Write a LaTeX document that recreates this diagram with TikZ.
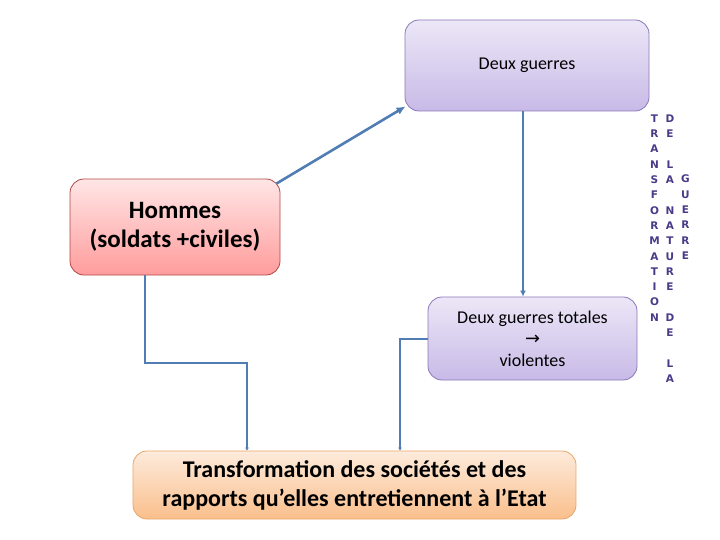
\documentclass[tikz,border=0pt]{standalone}
\usepackage{fontspec}
\usepackage{graphicx}
\setmainfont{Carlito}
\newfontfamily\lettres{DejaVu Sans}
\usetikzlibrary{arrows.meta, positioning}
\definecolor{conncol}{HTML}{4F7DB4}
\definecolor{lettercol}{HTML}{4B3A88}
\definecolor{violethaut}{HTML}{ECE7F7}
\definecolor{violetbas}{HTML}{C8BAE7}
\definecolor{violetbord}{HTML}{8A78B8}
\definecolor{rosehaut}{HTML}{FFE6E6}
\definecolor{rosebas}{HTML}{FF9C9C}
\definecolor{rosebord}{HTML}{B04848}
\definecolor{pechehaut}{HTML}{FDEBDC}
\definecolor{pechebas}{HTML}{FABF8C}
\definecolor{pechebord}{HTML}{EBA567}

\begin{document}
\begin{tikzpicture}[
  x=1pt, y=-1pt, >=Latex,
  box/.style={rectangle, rounded corners=14pt, draw, align=center, inner sep=2pt, line width=0.8pt},
  violet/.style={box, draw=violetbord, top color=violethaut, bottom color=violetbas, font=\fontsize{18}{21.5}\selectfont},
  rose/.style={box, draw=rosebord, top color=rosehaut, bottom color=rosebas, font=\bfseries\fontsize{25}{29}\selectfont},
  peach/.style={box, draw=pechebord, top color=pechehaut, bottom color=pechebas, font=\bfseries\fontsize{24}{29}\selectfont},
  conn/.style={draw=conncol, line width=2pt},
  col/.style={anchor=north, align=center, inner sep=0pt, text=lettercol, font=\lettres\bfseries\fontsize{10.5}{15.3}\selectfont}
]
  \useasboundingbox (0,0) rectangle (720,540);
  \node[violet, minimum width=244, minimum height=91] (guerres) at (527,65.5) {Deux guerres};
  \node[rose, minimum width=210, minimum height=96] (hommes) at (175,227) {Hommes\\ (soldats +civiles)};
  \node[violet, minimum width=209, minimum height=83] (totales) at (532.5,338.5) {Deux guerres totales\\ \resizebox{15pt}{!}{\lettres →}\\ violentes};
  \node[peach, minimum width=443, minimum height=68] (transf) at (354.5,485) {Transformation des sociétés et des\\ rapports qu’elles entretiennent à l’Etat};
  % colonnes verticales
  \node[col] (mot1) at (654.5,114.5) {T\\R\\A\\N\\S\\F\\O\\R\\M\\A\\T\\I\\O\\N};
  \node[col] (mot2) at (670,114.5) {D\\E\\\mbox{}\\L\\A\\\mbox{}\\N\\A\\T\\U\\R\\E\\\mbox{}\\D\\E\\\mbox{}\\L\\A};
  \node[col] (mot3) at (685.5,175) {G\\U\\E\\R\\R\\E};
  \draw[conn, line width=2.6pt, -{Latex[length=9pt,width=8pt]}] ([shift={(-4,5)}]hommes.north east) -- ([shift={(1,-5)}]guerres.south west);
  \draw[conn, -{Latex[length=6pt,width=6pt]}] ([xshift=-4pt]guerres.south) -- ([xshift=-4pt]guerres.south |- totales.north);
  \draw[conn, -{Latex[length=3pt,width=4pt]}] ([xshift=-30pt]hommes.south) -- ++(0,88) -| ([xshift=-107.5pt]transf.north);
  \draw[conn, -{Latex[length=3pt,width=4pt]}] (totales.west) -| ([xshift=45.5pt]transf.north);
\end{tikzpicture}
\end{document}
